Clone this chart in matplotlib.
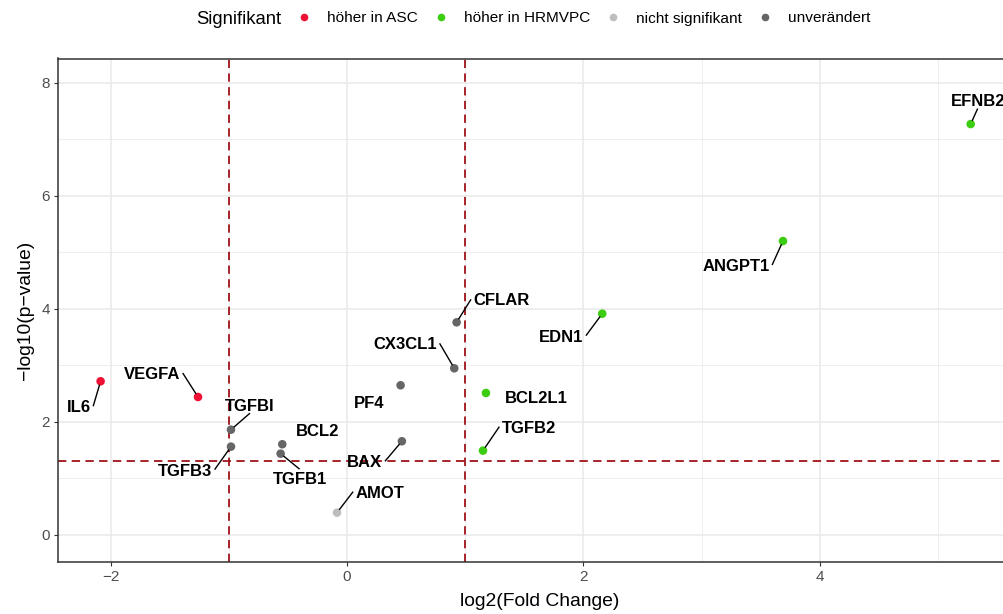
import matplotlib
matplotlib.use("Agg")
import matplotlib.pyplot as plt
from matplotlib.lines import Line2D
import numpy as np

plt.rcParams['font.family'] = ['Liberation Sans', 'DejaVu Sans']
plt.rcParams['savefig.bbox'] = None

# ---- data ----
genes = ["IL6", "VEGFA", "TGFBI", "TGFB3", "BCL2", "TGFB1", "AMOT", "PF4",
         "BAX", "CX3CL1", "CFLAR", "BCL2L1", "TGFB2", "EDN1", "ANGPT1", "EFNB2"]
log2fc = [-2.085, -1.261, -0.982, -0.982, -0.548, -0.562, -0.085, 0.453,
          0.464, 0.907, 0.927, 1.175, 1.150, 2.159, 3.688, 5.276]
neglog10p = [2.715, 2.437, 1.858, 1.558, 1.600, 1.434, 0.389, 2.644,
             1.653, 2.945, 3.759, 2.508, 1.487, 3.912, 5.198, 7.269]
status = ["höher in ASC", "höher in ASC", "unverändert", "unverändert", "unverändert",
          "unverändert", "nicht signifikant", "unverändert", "unverändert", "unverändert",
          "unverändert", "höher in HRMVPC", "höher in HRMVPC", "höher in HRMVPC",
          "höher in HRMVPC", "höher in HRMVPC"]
categories = ["höher in ASC", "höher in HRMVPC", "nicht signifikant", "unverändert"]
x_ticks = [-2, 0, 2, 4]
y_ticks = [0, 2, 4, 6, 8]
fc_cutoff = 1.0
p_cutoff = 0.05

# ---- styles / layout ----
colors = {"höher in ASC": "#EE1133", "höher in HRMVPC": "#3CCC12",
          "nicht signifikant": "#BEBEBE", "unverändert": "#666666"}
# label offsets (pixels, x right / y down) from the point and whether a segment is drawn
label_offsets = {
    "IL6": (-22, 25, True), "VEGFA": (-46, -24, True), "TGFBI": (19, -25, True),
    "TGFB3": (-46, 23, True), "BCL2": (35, -14, False), "TGFB1": (19, 24, True),
    "AMOT": (43, -21, True), "PF4": (-31, 17, False), "BAX": (-37, 20, True),
    "CX3CL1": (-49, -25, True), "CFLAR": (45, -23, True), "BCL2L1": (50, 4, False),
    "TGFB2": (46, -24, True), "EDN1": (-41, 22, True), "ANGPT1": (-47, 24, True),
    "EFNB2": (7, -24, True),
}

W, H = 1004, 614
DPI = 100
LABEL_FS = 12
CAP_PX = 0.716 * LABEL_FS * DPI / 72
fig = plt.figure(figsize=(W / DPI, H / DPI), dpi=DPI)
px_l, px_r, px_t, px_b = 57.7, 1020.8, 58.5, 562.3
ax = fig.add_axes([px_l / W, 1 - px_b / H, (px_r - px_l) / W, (px_b - px_t) / H])

ax.set_xlim(-2.448, 5.70)
ax.set_ylim(-0.49, 8.43)

ax.set_xticks(x_ticks)
ax.set_yticks(y_ticks)
ax.set_xticks([-1, 1, 3, 5], minor=True)
ax.set_yticks([1, 3, 5, 7], minor=True)
ax.grid(which='major', color='#EBEBEB', lw=1.2, zorder=0)
ax.grid(which='minor', color='#EBEBEB', lw=0.6, zorder=0)
ax.set_axisbelow(True)
ax.tick_params(which='major', length=3.2, width=0.8, color='#333333',
               labelcolor='#4D4D4D', labelsize=11, pad=2.5)
ax.tick_params(which='minor', length=0)
for s in ax.spines.values():
    s.set_color('#333333')
    s.set_linewidth(1.1)

# threshold lines
dash = dict(color='#A0121A', lw=1.3, dashes=(4.6, 3.0), zorder=1)
ax.axvline(-fc_cutoff, **dash)
ax.axvline(fc_cutoff, **dash)
ax.axhline(-np.log10(p_cutoff), **dash)

# points
x = np.array(log2fc)
y = np.array(neglog10p)
for cat in categories:
    m = np.array([s == cat for s in status])
    ax.scatter(x[m], y[m], s=38, color=colors[cat], edgecolors='none', zorder=3)

# labels
texts = []
for g, xi, yi in zip(genes, x, y):
    dx, dy, seg = label_offsets[g]
    t = ax.annotate(g, (xi, yi), xytext=(dx * 72 / DPI, (-dy - CAP_PX / 2) * 72 / DPI),
                    textcoords='offset points', ha='center', va='baseline',
                    fontsize=LABEL_FS, fontweight='bold', color='black', zorder=4,
                    annotation_clip=False)
    texts.append((t, xi, yi, dx, dy, seg))

fig.canvas.draw()
renderer = fig.canvas.get_renderer()
inv = ax.transData.inverted()
PAD = 2.5
for t, xi, yi, dx, dy, seg in texts:
    if not seg:
        continue
    bb = t.get_window_extent(renderer)
    px, py = ax.transData.transform((xi, yi))
    cx, cy = (bb.x0 + bb.x1) / 2, py - dy          # display coords (y up)
    hw = (bb.x1 - bb.x0) / 2 + PAD
    hh = CAP_PX / 2 + PAD
    cands = [(cx - hw, cy), (cx + hw, cy), (cx, cy - hh), (cx, cy + hh)]
    ex, ey = min(cands, key=lambda c: np.hypot(c[0] - px, c[1] - py))
    d = np.hypot(px - ex, py - ey)
    if d < 6:
        continue
    sx, sy = px + (ex - px) / d * 3.5, py + (ey - py) / d * 3.5
    p1 = inv.transform((sx, sy))
    p2 = inv.transform((ex, ey))
    ax.plot([p1[0], p2[0]], [p1[1], p2[1]], color='black', lw=1.0, zorder=3,
            solid_capstyle='butt', clip_on=False)

ax.set_xlabel('log2(Fold Change)', fontsize=13.9, color='black', labelpad=6)
ax.set_ylabel('\u2212log10(p\u2212value)', fontsize=13.9, color='black', labelpad=5.5)

# legend (top, horizontal, title on the left)
ly = 1 - 17 / H
cur = 196.0
tt = fig.text(cur / W, ly, 'Signifikant', fontsize=13.3, ha='left', va='center_baseline')
fig.canvas.draw()
cur = tt.get_window_extent(renderer).x1
for cat in categories:
    cur += 23
    fig.add_artist(Line2D([cur / W], [ly], marker='o', markersize=5.5, color=colors[cat],
                          markeredgewidth=0, linestyle='none', transform=fig.transFigure))
    cur += 23
    te = fig.text(cur / W, ly, cat, fontsize=11.1, ha='left', va='center_baseline')
    fig.canvas.draw()
    cur = te.get_window_extent(renderer).x1

fig.savefig('out.png', dpi=DPI, bbox_inches=None)
